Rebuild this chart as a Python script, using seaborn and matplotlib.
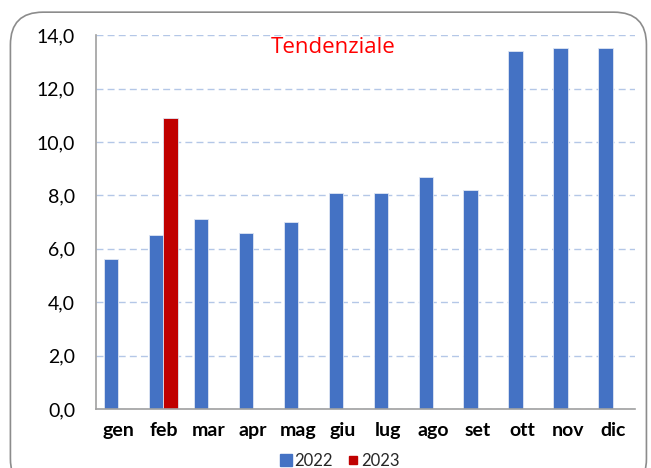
import matplotlib
matplotlib.use("Agg")
import matplotlib.pyplot as plt
from matplotlib.patches import FancyBboxPatch
from matplotlib.lines import Line2D
import seaborn as sns
import pandas as pd
import numpy as np

months = ["gen", "feb", "mar", "apr", "mag", "giu", "lug", "ago", "set", "ott", "nov", "dic"]
vals_2022 = [5.6, 6.5, 7.1, 6.6, 7.0, 8.1, 8.1, 8.7, 8.2, 13.4, 13.5, 13.5]
vals_2023 = [np.nan, 10.9, np.nan, np.nan, np.nan, np.nan, np.nan, np.nan, np.nan, np.nan, np.nan, np.nan]
series = ["2022", "2023"]
colors = ["#4472C4", "#C00000"]
title = "Tendenziale"

df = pd.DataFrame({
    "mese": months * 2,
    "valore": vals_2022 + vals_2023,
    "anno": [series[0]] * len(months) + [series[1]] * len(months),
})

sns.set_theme(style="white")
plt.rcParams["font.family"] = ["Lato", "DejaVu Sans"]

fig = plt.figure(figsize=(6.51, 4.68), dpi=100)
ax = fig.add_axes([0.1475, 0.126, 0.828, 0.799])

sns.barplot(data=df, x="mese", y="valore", hue="anno", hue_order=series,
            order=months, palette=colors, saturation=1, width=0.64, ax=ax,
            edgecolor="#dfe6f3", linewidth=0.6, legend=False)

ax.set_ylim(0, 14)
ax.set_xlim(-0.5, 11.5)
ticks = np.arange(0, 14.1, 2)
ax.set_yticks(ticks)
ax.set_yticklabels([f"{v:.1f}".replace(".", ",") for v in ticks], fontsize=14)
ax.set_xticklabels(months, fontsize=14, fontweight="bold")
ax.tick_params(axis="both", length=0, colors="#000000")
ax.tick_params(axis="y", pad=15)
ax.tick_params(axis="x", pad=9)
ax.set_xlabel("")
ax.set_ylabel("")
ax.yaxis.grid(True, color="#b4c7e7", linestyle=(0, (5, 3)), linewidth=1)
ax.set_axisbelow(True)
for s in ["top", "right"]:
    ax.spines[s].set_visible(False)
for s in ["left", "bottom"]:
    ax.spines[s].set_color("#a0a0a0")
    ax.spines[s].set_linewidth(1.2)

ax.text(4.77, 13.55, title, color="#ff0000", fontsize=16, ha="center", va="center",
        family=["Open Sans", "DejaVu Sans"])

handles = [Line2D([0], [0], marker="s", linestyle="", markersize=8, color=colors[0]),
           Line2D([0], [0], marker="s", linestyle="", markersize=6, color=colors[1])]
fig.legend(handles, series, loc="center", bbox_to_anchor=(0.522, 0.016), ncol=2,
           frameon=False, fontsize=12, handletextpad=0.1, columnspacing=0.8,
           handlelength=0.8)

frame = FancyBboxPatch((0.016, -0.05), 0.977, 1.024,
                       boxstyle="round,pad=0,rounding_size=0.05",
                       transform=fig.transFigure, fill=False,
                       edgecolor="#8c8c8c", linewidth=1.2, mutation_aspect=651/468)
fig.patches.append(frame)

fig.savefig("out.png", dpi=100)
